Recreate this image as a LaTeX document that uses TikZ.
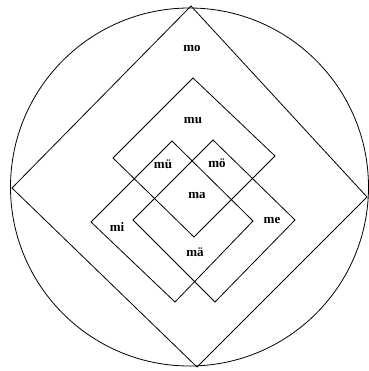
\documentclass[tikz,border=0pt]{standalone}
\usepackage{fontspec}
\setmainfont{Liberation Serif}
\usepackage{tikz}
\usetikzlibrary{calc}

\begin{document}
\begin{tikzpicture}[x=1pt, y=-1pt, line width=0.8pt,
    lbl/.style={font=\fontsize{13}{15}\selectfont\bfseries, inner sep=0pt}]
\useasboundingbox (0,0) rectangle (368,371);
% outer circle and big square
\draw (189.5,187) circle (179);
\draw (191,6) -- (367,197) -- (197,367) -- (12,188) -- cycle;
% three inner squares
\draw (193,78) -- (275,156) -- (194,237) -- (113,158) -- cycle;
\draw (172,141) -- (253,221) -- (175,302) -- (91,222) -- cycle;
\draw (213,140) -- (295,220) -- (215,302) -- (133,220) -- cycle;
% labels
\node[lbl] (mo) at (192,49) {mo};
\node[lbl] (mu) at (193,121) {mu};
\node[lbl] (mue) at (163,164) {mü};
\node[lbl] (moe) at (217,163) {mö};
\node[lbl] (ma) at (197,196) {ma};
\node[lbl] (mi) at (117,227) {mi};
\node[lbl] (me) at (272,220) {me};
\node[lbl] (mae) at (195,252) {mä};
\end{tikzpicture}
\end{document}
